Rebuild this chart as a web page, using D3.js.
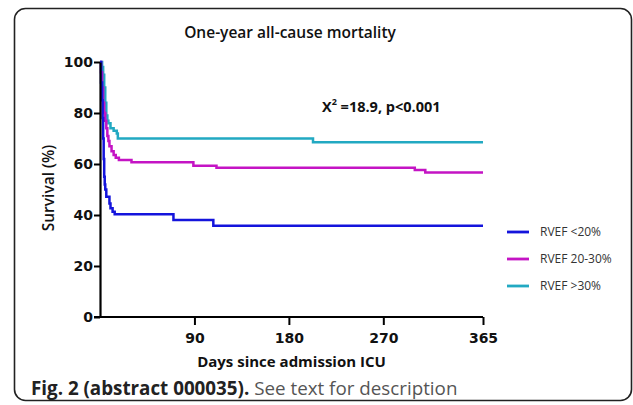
<!DOCTYPE html>
<html>
<head>
<meta charset="utf-8">
<script src="https://cdn.jsdelivr.net/npm/d3@7"></script>
<style>
  body { margin: 0; background: #fff; }
  svg { display: block; }
</style>
</head>
<body>
<div id="chart"></div>
<script>
// Kaplan-Meier steps: [day, survival %]
const rvefLow = [[0,100],[1,92],[2,85],[2.5,78],[3,70],[3.5,62],[4,55],[4.5,52],[5,50],[6,47.2],[9,44.5],[10,42.6],[12,41.3],[14,40.3],[70,38],[108,35.8],[365,35.8]]
const rvefMid = [[0,100],[1,96],[2,90],[3,84],[4,80],[5,77],[6,74],[7,71],[8,69],[9,67],[11,65],[13,63.5],[15,62.5],[18,61.6],[30,60.7],[89,59.3],[111,58.5],[300,57.6],[310,56.7],[365,56.7]]
const rvefHigh = [[0,100],[2,98],[3,95],[4,90],[5,84],[6,79],[7,77],[8,76],[10,74],[13,73],[16,72],[17,70],[203,68.5],[365,68.5]]

const seriesNames = ["RVEF <20%", "RVEF 20-30%", "RVEF >30%"]
const seriesColors = ["#1414dc", "#c414c4", "#22a9c2"]
const xTicks = [90, 180, 270, 365]
const yTicks = [0, 20, 40, 60, 80, 100]

const width = 633
const height = 405
const margin = {top: 62, right: 150, bottom: 88, left: 100}

const svg = d3.select("#chart")
    .append("svg")
    .attr("width", width)
    .attr("height", height)
    .attr("viewBox", [0, 0, width, height])

// frame
svg.append("rect")
    .attr("x", 14.5)
    .attr("y", 8.5)
    .attr("width", 617)
    .attr("height", 392)
    .attr("rx", 11)
    .attr("fill", "none")
    .attr("stroke", "#222")
    .attr("stroke-width", 1.6)

const x = d3.scaleLinear().domain([0, 365]).range([margin.left, 483])
const y = d3.scaleLinear().domain([0, 100]).range([317, 62])

const line = d3.line()
    .x(d => x(d[0]))
    .y(d => y(d[1]))
    .curve(d3.curveStepAfter)

const layer_lines = svg.append("g")
const all = [rvefLow, rvefMid, rvefHigh]
// draw high first so blue sits on top
;[2, 1, 0].forEach(i => {
    layer_lines.append("path")
        .datum(all[i])
        .attr("fill", "none")
        .attr("stroke", seriesColors[i])
        .attr("stroke-width", 2.5)
        .attr("d", line)
})

// axes
const xAxis = svg.append("g")
    .attr("transform", `translate(0,${y(0)})`)
    .call(d3.axisBottom(x).tickValues(xTicks).tickSize(8).tickPadding(8).tickSizeOuter(0))
const yAxis = svg.append("g")
    .attr("transform", `translate(${margin.left},0)`)
    .call(d3.axisLeft(y).tickValues(yTicks).tickSize(6).tickPadding(1).tickSizeOuter(0))

;[xAxis, yAxis].forEach(g => {
    g.select(".domain").attr("stroke", "#000").attr("stroke-width", 2.2)
    g.selectAll(".tick line").attr("stroke", "#000").attr("stroke-width", 2)
    g.selectAll(".tick text")
        .attr("fill", "#111")
        .style("font-family", "'DejaVu Sans', sans-serif")
        .style("font-weight", "700")
        .style("font-size", "14px")
})
// x axis line starts left of the y axis, like the 0 tick
xAxis.select(".domain").attr("d", `M${x(0) - 6},0H${x(365)}`)

// titles
svg.append("text")
    .attr("x", 290)
    .attr("y", 38)
    .attr("text-anchor", "middle")
    .style("font-family", "'Open Sans', sans-serif")
    .style("font-weight", "600")
    .style("font-size", "15.5px")
    .attr("fill", "#111")
    .text("One-year all-cause mortality")

svg.append("text")
    .attr("transform", "translate(54,188) rotate(-90)")
    .attr("text-anchor", "middle")
    .style("font-family", "'Open Sans', sans-serif")
    .style("font-weight", "600")
    .style("font-size", "15.5px")
    .attr("fill", "#111")
    .text("Survival (%)")

svg.append("text")
    .attr("x", 291.5)
    .attr("y", 367)
    .attr("text-anchor", "middle")
    .style("font-family", "'Open Sans', sans-serif")
    .style("font-weight", "700")
    .style("font-size", "15px")
    .attr("fill", "#111")
    .text("Days since admission ICU")

// chi-square annotation
const stat = svg.append("text")
    .attr("x", 322)
    .attr("y", 112)
    .style("font-family", "'Open Sans', sans-serif")
    .style("font-weight", "700")
    .style("font-size", "14.5px")
    .attr("fill", "#111")
stat.append("tspan").text("X")
stat.append("tspan").attr("dy", -7).style("font-size", "9px").text("2")
stat.append("tspan").attr("dy", 7).text(" =18.9,  p<0.001")

// legend
const legend = svg.append("g")
seriesNames.forEach((name, i) => {
    const ly = 232 + i * 27
    legend.append("line")
        .attr("x1", 507).attr("x2", 529)
        .attr("y1", ly).attr("y2", ly)
        .attr("stroke", seriesColors[i])
        .attr("stroke-width", 2.8)
    legend.append("text")
        .attr("x", 540)
        .attr("y", ly + 4)
        .style("font-family", "'Open Sans', sans-serif")
        .style("font-size", "12px")
        .attr("fill", "#333")
        .text(name)
})

// caption
const cap = svg.append("text")
    .attr("x", 31)
    .attr("y", 395)
    .style("font-family", "'Open Sans', sans-serif")
    .style("font-size", "18.8px")
cap.append("tspan").style("font-weight", "700").attr("fill", "#222").text("Fig. 2 (abstract 000035).")
cap.append("tspan").style("font-weight", "400").attr("fill", "#555").text(" See text for description")
</script>
</body>
</html>
